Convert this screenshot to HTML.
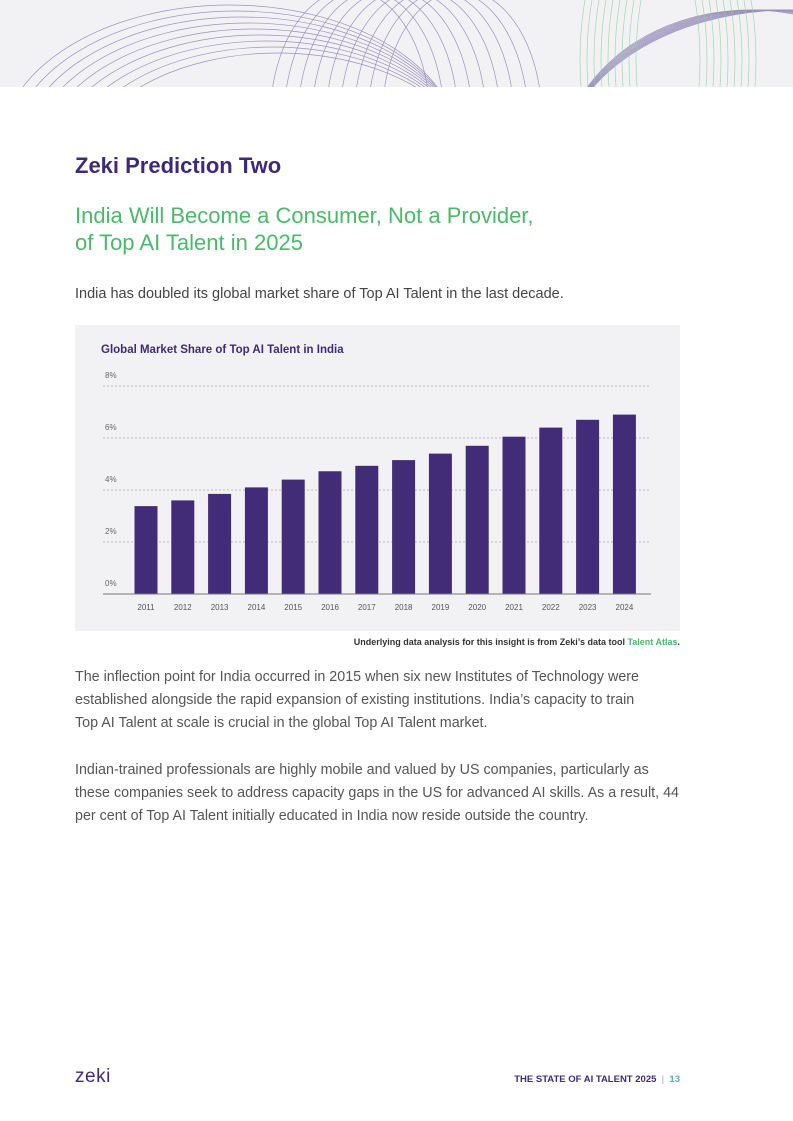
<!DOCTYPE html>
<html><head><meta charset="utf-8"><style>
body{margin:0;width:793px;height:1121px;background:#fff;font-family:"Liberation Sans",sans-serif;position:relative;overflow:hidden}
.abs{position:absolute}
p{margin:0}
</style></head><body>
<svg class="abs" style="left:0;top:0" width="793" height="87">
<rect width="793" height="87" fill="#f2f2f4"/>
<g fill="none" stroke="#8878b0" stroke-width="0.7" opacity="0.8" id="arcs"></g>
<g fill="none" stroke="#8fd09a" stroke-width="0.7" opacity="0.8" id="garcs"></g>
</svg>
<div class="abs" style="left:75px;top:153px;font-size:22px;font-weight:bold;color:#3f2a78">Zeki Prediction Two</div>
<div class="abs" style="left:75px;top:202px;font-size:22px;line-height:27px;color:#4cb86a">India Will Become a Consumer, Not a Provider,<br>of Top AI Talent in 2025</div>
<p class="abs" style="left:75px;top:286px;font-size:14.5px;color:#444">India has doubled its global market share of Top AI Talent in the last decade.</p>
<svg class="abs" id="chart" style="left:75px;top:325px" width="605" height="306"></svg>
<p class="abs" style="left:330px;top:637px;width:350px;text-align:right;font-size:9px;font-weight:bold;color:#333">Underlying data analysis for this insight is from Zeki’s data tool <span style="color:#4cb86a">Talent Atlas</span>.</p>
<p class="abs" style="left:75px;top:666px;width:620px;font-size:14.3px;line-height:23px;color:#555;white-space:nowrap">The inflection point for India occurred in 2015 when six new Institutes of Technology were<br>established alongside the rapid expansion of existing institutions. India’s capacity to train<br>Top AI Talent at scale is crucial in the global Top AI Talent market.</p>
<p class="abs" style="left:75px;top:759px;width:620px;font-size:14.3px;line-height:23px;color:#555;white-space:nowrap">Indian-trained professionals are highly mobile and valued by US companies, particularly as<br>these companies seek to address capacity gaps in the US for advanced AI skills. As a result, 44<br>per cent of Top AI Talent initially educated in India now reside outside the country.</p>
<div class="abs" style="left:75px;top:1066px;font-size:19px;color:#3f2a78;letter-spacing:0.5px">zeki</div>
<div class="abs" style="left:480px;top:1074px;width:200px;text-align:right;font-size:9.5px;font-weight:bold;color:#3f2a78">THE STATE OF AI TALENT 2025 <span style="color:#aaa;font-weight:normal">&nbsp;|&nbsp;</span> <span style="color:#4bb5b0">13</span></div>
<script>
const years=["2011","2012","2013","2014","2015","2016","2017","2018","2019","2020","2021","2022","2023","2024"];
const shares=[3.38,3.6,3.85,4.1,4.4,4.72,4.93,5.15,5.4,5.7,6.05,6.4,6.7,6.9];
const ticks=[0,2,4,6,8];
const NS="http://www.w3.org/2000/svg";
const svg=document.getElementById('chart');
function mk(t,a,p){const e=document.createElementNS(NS,t);for(const k in a)e.setAttribute(k,a[k]);(p||svg).appendChild(e);return e;}
const y0=269,yTop=61,x0=28,x1=576;
const y=v=>y0-(v/8)*(y0-yTop);
const step=36.8,bw=23,xc=i=>71+i*step;
mk('rect',{x:0,y:0,width:605,height:306,fill:'#f2f2f4'});
let t=mk('text',{x:26,y:28,'font-size':11.5,'font-weight':'bold',fill:'#3f2a78'});t.textContent='Global Market Share of Top AI Talent in India';


ticks.forEach(v=>{
 if(v>0){const l=mk('line',{x1:x0,x2:x1,y1:y(v),y2:y(v),stroke:'#aaa','stroke-width':0.8,'stroke-dasharray':'2,2'});
 
 }
 const tt=mk('text',{x:30,y:y(v)-8,'font-size':8,fill:'#666'});tt.textContent=v+'%';
 
 
});
shares.forEach((v,i)=>{
 const r=mk('rect',{x:xc(i)-bw/2,y:y(v),width:bw,height:y0-y(v),fill:'#422c78'});
 
 
 const tx=mk('text',{x:xc(i),y:285,'font-size':8,fill:'#555','text-anchor':'middle'});tx.textContent=years[i];
 
 
});
const ax=mk('line',{x1:x0,x2:x1,y1:y0,y2:y0,stroke:'#777','stroke-width':1});


const g=document.getElementById('arcs'),gg=document.getElementById('garcs');
for(let i=0;i<9;i++){
 mk('ellipse',{cx:230+i*6,cy:150+i*3,rx:230-i*4,ry:145-i*3},g);
 mk('ellipse',{cx:750+i*5,cy:170,rx:190+i*5,ry:160},g);
 mk('ellipse',{cx:350+i*14,cy:120,rx:80,ry:130},g);
 mk('ellipse',{cx:640+i*7,cy:60,rx:60,ry:150},gg);
}
</script>
</body></html>
